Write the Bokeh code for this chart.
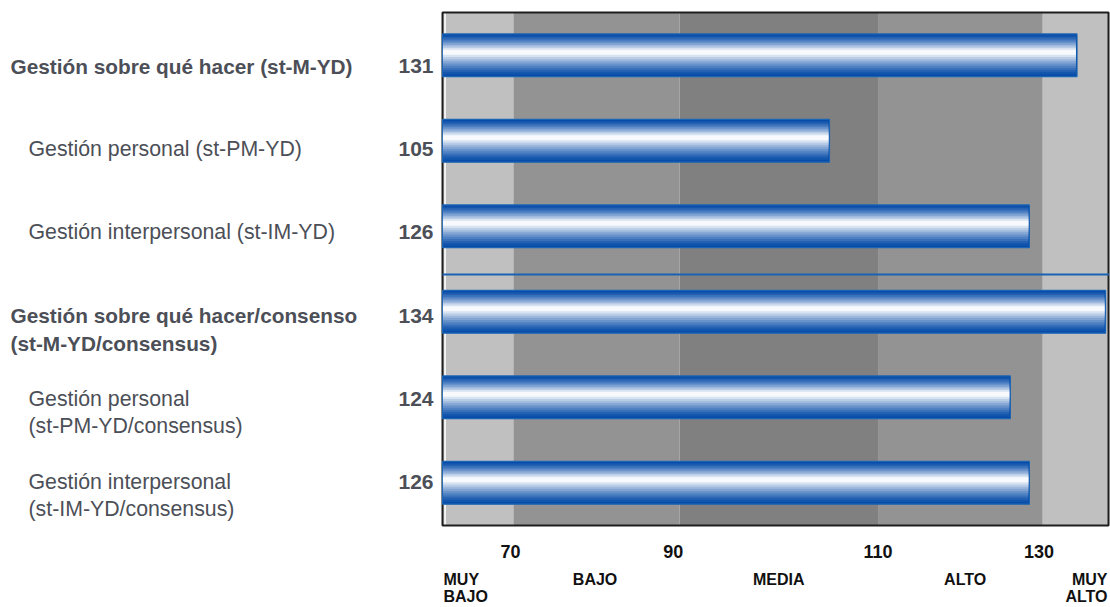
from bokeh.plotting import figure
from bokeh.models import Range1d
from bokeh.core.properties import value
from bokeh.embed import file_html
from bokeh.resources import INLINE

# ---------------- data ----------------
label_line1 = [
    "Gestión sobre qué hacer (st-M-YD)",
    "Gestión personal (st-PM-YD)",
    "Gestión interpersonal (st-IM-YD)",
    "Gestión sobre qué hacer/consenso",
    "Gestión personal",
    "Gestión interpersonal",
]
label_line2 = ["", "", "", "(st-M-YD/consensus)", "(st-PM-YD/consensus)", "(st-IM-YD/consensus)"]
is_main = [True, False, False, True, False, False]
scores = [131, 105, 126, 134, 124, 126]
tick_labels = ["70", "90", "110", "130"]
band_line1 = ["MUY", "BAJO", "MEDIA", "ALTO", "MUY"]
band_line2 = ["BAJO", "", "", "", "ALTO"]

# ---------------- layout constants ----------------
X0, X1 = 64.35, 134.31          # value scale shown inside the chart box
PXU = 9.52                       # pixels per score unit
PX_PER_ROW = 85.5
band_edges = [X0, 71.8, 89.25, 110.1, 127.4, X1]
band_colors = ["#c0c0c0", "#939393", "#808080", "#939393", "#c0c0c0"]
tick_pos = [71.5, 88.6, 110.1, 127.0]
band_label_nudge = [0, -0.15, 0, 0.5, 0]
NROW = len(scores)
W, Hh = 1110, 607
BOX_L, BOX_T = 442, 12           # chart box position on the page


def xpx(px):
    return X0 + (px - BOX_L) / PXU


def ypx(py):
    return (py - BOX_T) / PX_PER_ROW


FONT = value("Liberation Sans")
TXT = "#4c4f57"

p = figure(width=W, height=Hh, output_backend="svg", toolbar_location=None,
           x_range=Range1d(xpx(0), xpx(W)), y_range=Range1d(ypx(Hh), ypx(0)),
           x_axis_location=None, y_axis_location=None, min_border=0)
p.xgrid.visible = False
p.ygrid.visible = False
p.outline_line_color = None
p.background_fill_color = "white"
p.border_fill_color = "white"

# background bands
p.quad(left=band_edges[:-1], right=band_edges[1:], top=0, bottom=NROW,
       fill_color=band_colors, line_color=None)
p.segment(x0=[X0 + 0.27], x1=[X0 + 0.27], y0=[0], y1=[NROW], line_color="white", line_width=1.5)
# chart box outline
p.quad(left=[X0], right=[X1], top=[0], bottom=[NROW], fill_color=None,
       line_color="#1e1e1e", line_width=2)

# bars with cylinder-like gradient (layered)
rows = [i + 0.5 for i in range(NROW)]
N = 11
dark = (6, 76, 168)
light = (247, 249, 252)
H = 0.5
for k in range(N):
    t = k / (N - 1)
    h = H * (1 - 0.88 * t)
    shift = H * 0.07 * t
    tt = t ** 1.3
    c = tuple(int(round(dark[j] + (light[j] - dark[j]) * tt)) for j in range(3))
    col = "#%02x%02x%02x" % c
    ys = [r - shift for r in rows]
    if k == 0:
        p.hbar(y=ys, left=X0, right=scores, height=h, fill_color=col,
               line_color="#1c64b4", line_width=1.2)
    else:
        p.hbar(y=ys, left=X0 + 0.05, right=[s - 0.12 for s in scores], height=h,
               fill_color=col, line_color=None)

# separator between groups
p.segment(x0=[X0], x1=[X1 + 0.05], y0=[3.065], y1=[3.065], line_color="#1a62b0", line_width=2)

# numeric scale labels
p.text(x=tick_pos, y=[ypx(551)] * len(tick_pos), text=tick_labels, text_font=FONT,
       text_font_style="bold", text_font_size="18px", text_color="#111111",
       text_align="center", text_baseline="middle")

# left labels
offs = [11 - 2.4 * i for i in range(NROW)]
y1 = [rows[i] + offs[i] / PX_PER_ROW for i in range(NROW)]
y2 = [rows[i] + (offs[i] + 27.5) / PX_PER_ROW for i in range(NROW)]

for main in (True, False):
    idx = [i for i in range(NROW) if is_main[i] == main]
    xs = xpx(10) if main else xpx(28)
    style = "bold" if main else "normal"
    size = "20.8px" if main else "21.3px"
    for ylist, lab in ((y1, label_line1), (y2, label_line2)):
        p.text(x=[xs] * len(idx), y=[ylist[i] for i in idx], text=[lab[i] for i in idx],
               text_font=FONT, text_font_style=style, text_font_size=size,
               text_color=TXT, text_align="left", text_baseline="middle")

# values
p.text(x=[xpx(433)] * NROW, y=y1, text=[str(s) for s in scores], text_font=FONT,
       text_font_style="bold", text_font_size="21px", text_color=TXT,
       text_align="right", text_baseline="middle")

# band names below the scale
band_centers = [(band_edges[i] + band_edges[i + 1]) / 2 + band_label_nudge[i]
                for i in range(len(band_line1))]
bx = [xpx(443)] + band_centers[1:-1] + [xpx(1107)]
aligns = ["left", "center", "center", "center", "right"]
for txts, yy in ((band_line1, ypx(579)), (band_line2, ypx(596))):
    for i in range(len(txts)):
        if txts[i]:
            p.text(x=[bx[i]], y=[yy], text=[txts[i]], text_font=FONT, text_font_style="bold",
                   text_font_size="16px", text_color="#111111",
                   text_align=aligns[i], text_baseline="middle")

open("out.html", "w").write(file_html(p, INLINE))
